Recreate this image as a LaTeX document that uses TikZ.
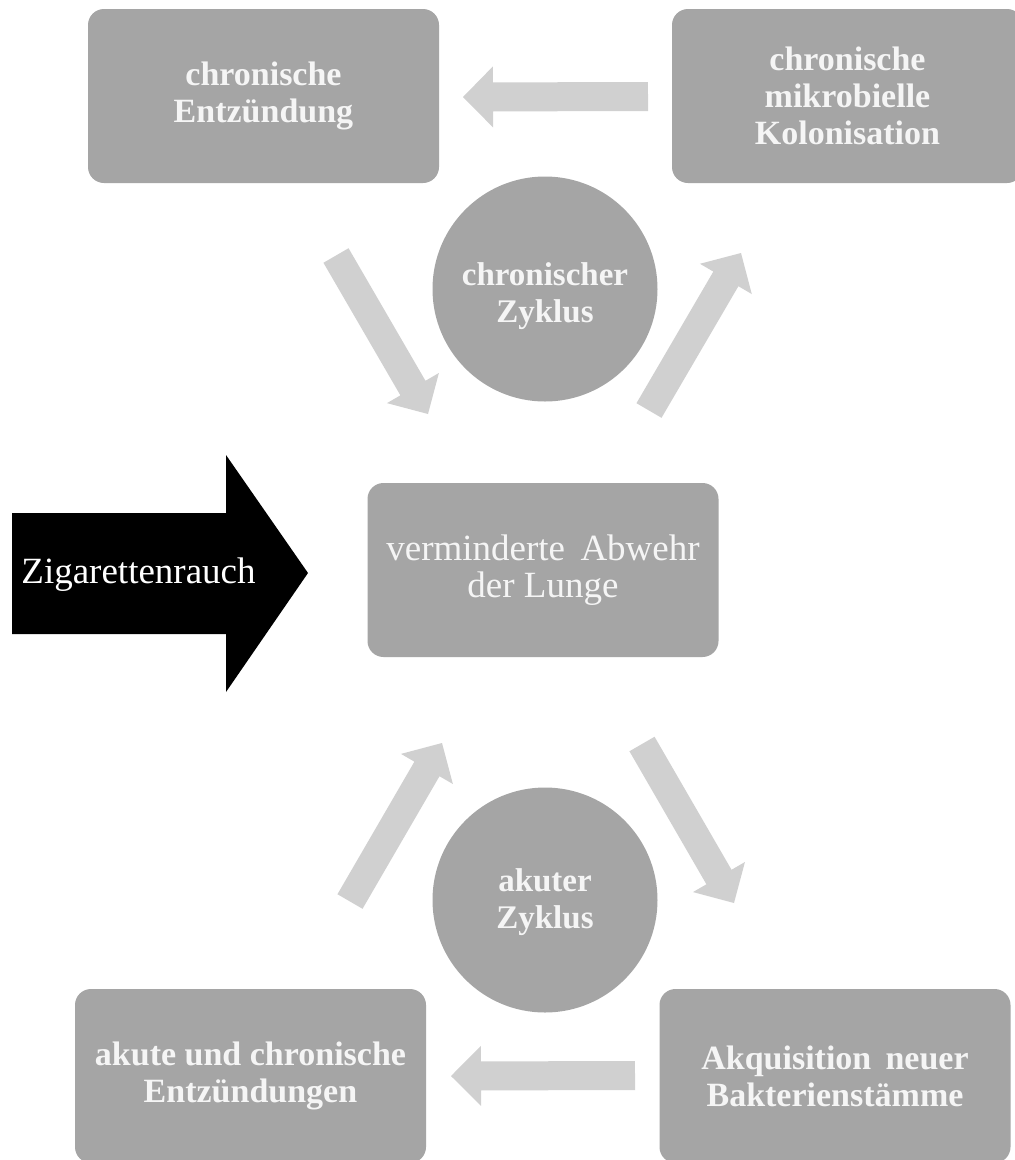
\documentclass[tikz,border=0pt]{standalone}
\usepackage{fontspec}
\setmainfont{Liberation Serif}
\usetikzlibrary{calc}
\definecolor{boxgray}{HTML}{A5A5A5}
\definecolor{arrgray}{HTML}{D0D0D0}
\definecolor{txtwhite}{HTML}{F5F5F5}
% block arrow: tail, tip, shaft half width, head half width, head length
\newcommand\blkarrow[5]{%
  \coordinate (hb) at ($(#2)!#5!(#1)$);
  \fill[arrgray] ($(#1)!#3!90:(#2)$) -- ($(hb)!#3!-90:(#1)$) -- ($(hb)!#4!-90:(#1)$) -- (#2)
     -- ($(hb)!#4!90:(#1)$) -- ($(hb)!#3!90:(#1)$) -- ($(#1)!#3!-90:(#2)$) -- cycle;
}
\begin{document}
\begin{tikzpicture}[x=1pt,y=-1pt,
  box/.style={fill=boxgray, rounded corners=16pt, minimum width=351pt, minimum height=174pt,
    align=center, text=txtwhite, inner sep=0pt, font=\fontsize{34}{37}\selectfont\bfseries},
  cyc/.style={circle, fill=boxgray, minimum size=225pt, inner sep=0pt},
  cyctext/.style={align=center, text=txtwhite, inner sep=0pt, font=\fontsize{33}{37}\selectfont\bfseries},
  plain/.style={font=\fontsize{37}{37}\selectfont}]
\clip (0,0) rectangle (1015,1160);
\fill[white] (0,0) rectangle (1015,1160);

% boxes
\node[box] (entz) at (263.5,96) {chronische\\Entzündung};
\node[box] (kolon) at (847.5,96) {chronische\\mikrobielle\\Kolonisation};
\node[box, plain] (lunge) at (543,570) {verminderte\, Abwehr\\der Lunge};
\node[box] (akentz) at (250.5,1076) {akute und chronische\\Entzündungen};
\node[box] (akqu) at (835,1076) {Akquisition\, neuer\\Bakterienstämme};

% circles
\node[cyc] (chron) at (545,289) {};
\node[cyctext] (chrontxt) at ([yshift=-7pt]chron.center) {chronischer\\Zyklus};
\node[cyc] (akut) at (545,900) {};
\node[cyctext] (akuttxt) at ([yshift=-2pt]akut.center) {akuter\\Zyklus};

% light block arrows
\coordinate (a1t) at (648,96.5);  \coordinate (a1p) at (463,97);
\coordinate (a2t) at (336,255.5); \coordinate (a2p) at (428,414);
\coordinate (a3t) at (649,410.5); \coordinate (a3p) at (741,253);
\coordinate (a4t) at (350,901.5); \coordinate (a4p) at (442,743);
\coordinate (a5t) at (642,744);   \coordinate (a5p) at (734,903);
\coordinate (a6t) at (635,1075.5);\coordinate (a6p) at (451,1076);
\blkarrow{a1t}{a1p}{14.5pt}{30.5pt}{30pt}
\blkarrow{a2t}{a2p}{14.5pt}{30pt}{30pt}
\blkarrow{a3t}{a3p}{14.5pt}{30pt}{30pt}
\blkarrow{a4t}{a4p}{14.5pt}{30pt}{30pt}
\blkarrow{a5t}{a5p}{14.5pt}{30pt}{30pt}
\blkarrow{a6t}{a6p}{14.5pt}{30pt}{30pt}

% black arrow (cigarette smoke)
\coordinate (smoketip) at (308,573);
\fill[black] (12,513) -- (226,513) -- (226,455) -- (smoketip) -- (226,692) -- (226,634) -- (12,634) -- cycle;
\node[plain, text=white, anchor=base, inner sep=0pt] (smoke) at (138.5,583) {Zigarettenrauch};
\end{tikzpicture}
\end{document}
